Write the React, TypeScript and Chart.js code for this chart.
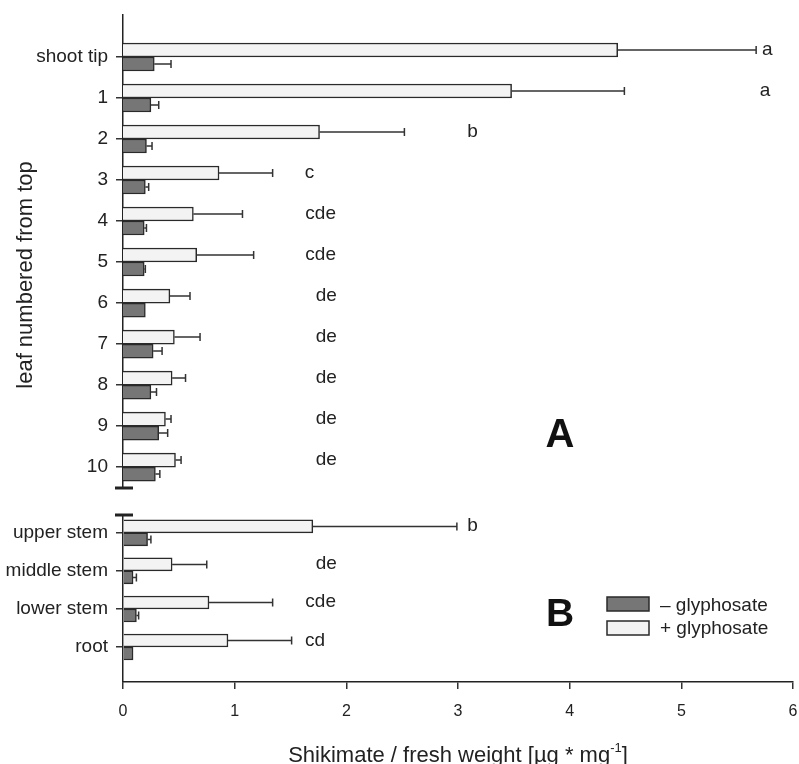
import React, { useEffect, useRef } from "react";
import { Chart, registerables } from "chart.js";
Chart.register(...registerables);

const FONT = '"Liberation Sans", Arial, sans-serif';

// Panel A: leaves
const leafLabels = ["shoot tip", "1", "2", "3", "4", "5", "6", "7", "8", "9", "10"];
const leafPlus = [4.43, 3.48, 1.76, 0.86, 0.63, 0.66, 0.42, 0.46, 0.44, 0.38, 0.47];
const leafPlusErr = [1.24, 1.01, 0.76, 0.48, 0.44, 0.51, 0.18, 0.23, 0.12, 0.05, 0.05];
const leafMinus = [0.28, 0.25, 0.21, 0.2, 0.19, 0.19, 0.2, 0.27, 0.25, 0.32, 0.29];
const leafMinusErr = [0.15, 0.07, 0.05, 0.03, 0.02, 0.01, 0, 0.08, 0.05, 0.08, 0.04];
const leafLetters = ["a", "a", "b", "c", "cde", "cde", "de", "de", "de", "de", "de"];
const leafLetterX = [5.77, 5.75, 3.13, 1.67, 1.77, 1.77, 1.82, 1.82, 1.82, 1.82, 1.82];

// Panel B: stems and root
const stemLabels = ["upper stem", "middle stem", "lower stem", "root"];
const stemPlus = [1.7, 0.44, 0.77, 0.94];
const stemPlusErr = [1.29, 0.31, 0.57, 0.57];
const stemMinus = [0.22, 0.09, 0.12, 0.09];
const stemMinusErr = [0.03, 0.03, 0.02, 0];
const stemLetters = ["b", "de", "cde", "cd"];
const stemLetterX = [3.13, 1.82, 1.77, 1.72];

const xMin = 0;
const xMax = 6;
const seriesNames = ["\u2013 glyphosate", "+ glyphosate"];

const LIGHT = "#f3f3f3";
const DARK = "#767676";
const EDGE = "#2a2a2a";
const INK = "#222";

function makeDatasets(plus: number[], plusErr: number[], minus: number[], minusErr: number[], thickness: number) {
  return [
    {
      label: seriesNames[1],
      data: plus.map((v, i) => ({ x: v, y: i })),
      errors: plusErr,
      backgroundColor: LIGHT,
      borderColor: EDGE,
      borderWidth: 1.5,
      barThickness: thickness,
    },
    {
      label: seriesNames[0],
      data: minus.map((v, i) => ({ x: v, y: i })),
      errors: minusErr,
      backgroundColor: DARK,
      borderColor: EDGE,
      borderWidth: 1.5,
      barThickness: thickness,
    },
  ];
}

const errorBarPlugin = {
  id: "errorBars",
  afterDatasetsDraw(chart: any) {
    const ctx = chart.ctx;
    const xs = chart.scales.x;
    ctx.save();
    ctx.strokeStyle = "#333";
    ctx.lineWidth = 1.5;
    chart.data.datasets.forEach((ds: any, di: number) => {
      const meta = chart.getDatasetMeta(di);
      meta.data.forEach((bar: any, i: number) => {
        const e = ds.errors[i];
        if (!e) return;
        const v = ds.data[i].x;
        const x0 = bar.x;
        const x1 = xs.getPixelForValue(v + e);
        ctx.beginPath();
        ctx.moveTo(x0, bar.y);
        ctx.lineTo(x1, bar.y);
        ctx.moveTo(x1, bar.y - 4);
        ctx.lineTo(x1, bar.y + 4);
        ctx.stroke();
      });
    });
    ctx.restore();
  },
};

function lettersPlugin(letters: string[], letterX: number[]) {
  return {
    id: "letters",
    afterDatasetsDraw(chart: any) {
      const ctx = chart.ctx;
      const xs = chart.scales.x;
      const meta = chart.getDatasetMeta(0);
      ctx.save();
      ctx.fillStyle = INK;
      ctx.font = `19px ${FONT}`;
      ctx.textAlign = "center";
      ctx.textBaseline = "alphabetic";
      letters.forEach((t, i) => {
        const bar = meta.data[i];
        ctx.fillText(t, xs.getPixelForValue(letterX[i]), bar.y + 5);
      });
      ctx.restore();
    },
  };
}

function yScale(labels: string[], min: number, max: number) {
  return {
    type: "linear",
    reverse: true,
    offset: false,
    min,
    max,
    afterBuildTicks: (scale: any) => {
      scale.ticks = labels.map((_, i) => ({ value: i }));
    },
    afterFit: (scale: any) => {
      scale.width = 123;
      scale.paddingTop = 0;
      scale.paddingBottom = 0;
    },
    ticks: {
      callback: (v: number) => labels[v] ?? "",
      font: { family: FONT, size: 19 },
      color: INK,
      padding: 8,
    },
    grid: { offset: false, drawOnChartArea: false, drawTicks: true, tickLength: 7, color: "#333", lineWidth: 1.5 },
    border: { display: true, color: INK, width: 1.5 },
  };
}

export default function App() {
  const refA = useRef<HTMLCanvasElement>(null);
  const refB = useRef<HTMLCanvasElement>(null);

  useEffect(() => {
    const panelADecor = {
      id: "panelA",
      afterDraw(chart: any) {
        const ctx = chart.ctx;
        const ca = chart.chartArea;
        ctx.save();
        // break mark
        ctx.strokeStyle = INK;
        ctx.lineWidth = 3;
        ctx.beginPath();
        ctx.moveTo(ca.left - 8, ca.bottom);
        ctx.lineTo(ca.left + 10, ca.bottom);
        ctx.stroke();
        // y title
        ctx.fillStyle = INK;
        ctx.font = `22px ${FONT}`;
        ctx.translate(32, 275);
        ctx.rotate(-Math.PI / 2);
        ctx.textAlign = "center";
        ctx.textBaseline = "alphabetic";
        ctx.fillText("leaf numbered from top", 0, 0);
        ctx.restore();
        ctx.save();
        ctx.fillStyle = "#111";
        ctx.font = `bold 40px ${FONT}`;
        ctx.textAlign = "center";
        ctx.textBaseline = "alphabetic";
        ctx.fillText("A", 560, 447);
        ctx.restore();
      },
    };

    const panelBDecor = {
      id: "panelB",
      afterDraw(chart: any) {
        const ctx = chart.ctx;
        const ca = chart.chartArea;
        ctx.save();
        ctx.strokeStyle = INK;
        ctx.lineWidth = 3;
        ctx.beginPath();
        ctx.moveTo(ca.left - 8, ca.top);
        ctx.lineTo(ca.left + 10, ca.top);
        ctx.stroke();

        // big B
        ctx.fillStyle = "#111";
        ctx.font = `bold 39px ${FONT}`;
        ctx.textAlign = "center";
        ctx.textBaseline = "alphabetic";
        ctx.fillText("B", 560, 126);

        // legend
        ctx.lineWidth = 1.5;
        ctx.strokeStyle = EDGE;
        ctx.fillStyle = DARK;
        ctx.fillRect(607, 97, 42, 14);
        ctx.strokeRect(607, 97, 42, 14);
        ctx.fillStyle = LIGHT;
        ctx.fillRect(607, 121, 42, 14);
        ctx.strokeRect(607, 121, 42, 14);
        ctx.fillStyle = INK;
        ctx.font = `19px ${FONT}`;
        ctx.textAlign = "left";
        ctx.fillText(seriesNames[0], 660, 111);
        ctx.fillText(seriesNames[1], 660, 134);

        // x title with superscript
        const main = "Shikimate / fresh weight [\u00b5g * mg";
        const sup = "-1";
        const end = "]";
        ctx.font = `22px ${FONT}`;
        const w1 = ctx.measureText(main).width;
        const w3 = ctx.measureText(end).width;
        ctx.font = `13px ${FONT}`;
        const w2 = ctx.measureText(sup).width;
        const total = w1 + w2 + w3;
        const cx = (ca.left + ca.right) / 2;
        let x = cx - total / 2;
        const base = 262;
        ctx.font = `22px ${FONT}`;
        ctx.fillText(main, x, base);
        x += w1;
        ctx.font = `13px ${FONT}`;
        ctx.fillText(sup, x, base - 10);
        x += w2;
        ctx.font = `22px ${FONT}`;
        ctx.fillText(end, x, base);
        ctx.restore();
      },
    };

    const common = {
      indexAxis: "y",
      responsive: false,
      animation: false,
      plugins: { legend: { display: false }, tooltip: { enabled: false } },
    };

    const chartA = new Chart(refA.current as HTMLCanvasElement, {
      type: "bar",
      data: { datasets: makeDatasets(leafPlus, leafPlusErr, leafMinus, leafMinusErr, 14) as any },
      options: {
        ...common,
        layout: { padding: { top: 15, bottom: 12, left: 0, right: 6 } },
        scales: {
          x: { type: "linear", min: xMin, max: xMax, display: false },
          y: yScale(leafLabels, -1.024, 10.51),
        },
      } as any,
      plugins: [errorBarPlugin, lettersPlugin(leafLetters, leafLetterX), panelADecor],
    });

    const chartB = new Chart(refB.current as HTMLCanvasElement, {
      type: "bar",
      data: { datasets: makeDatasets(stemPlus, stemPlusErr, stemMinus, stemMinusErr, 13) as any },
      options: {
        ...common,
        layout: { padding: { top: 15, bottom: 0, left: 0, right: 6 } },
        scales: {
          x: {
            type: "linear",
            min: xMin,
            max: xMax,
            afterFit: (scale: any) => {
              scale.height = 82;
              scale.paddingLeft = 0;
              scale.paddingRight = 0;
            },
            ticks: { stepSize: 1, font: { family: FONT, size: 16 }, color: INK, padding: 13 },
            grid: { drawOnChartArea: false, drawTicks: true, tickLength: 7, color: "#333", lineWidth: 1.5 },
            border: { display: true, color: INK, width: 1.5 },
          },
          y: yScale(stemLabels, -0.47, 3.92),
        },
      } as any,
      plugins: [errorBarPlugin, lettersPlugin(stemLetters, stemLetterX), panelBDecor],
    });

    return () => {
      chartA.destroy();
      chartB.destroy();
    };
  }, []);

  return (
    <div style={{ position: "absolute", left: 0, top: 0, width: 799, height: 764, background: "#fff" }}>
      <canvas ref={refA} width={799} height={500} style={{ position: "absolute", left: 0, top: 0 }} />
      <canvas ref={refB} width={799} height={264} style={{ position: "absolute", left: 0, top: 500 }} />
    </div>
  );
}
